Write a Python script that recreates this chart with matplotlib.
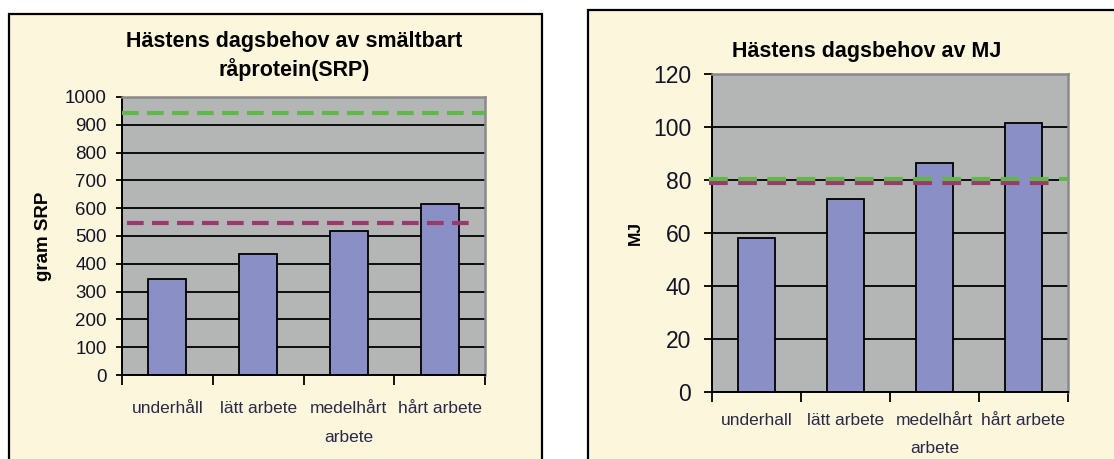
import matplotlib.pyplot as plt
from matplotlib.patches import Rectangle

# data
kategorier = ['underhåll', 'lätt arbete', 'medelhårt\narbete', 'hårt arbete']
kategorier_mj = ['underhall', 'lätt arbete', 'medelhårt\narbete', 'hårt arbete']
srp = [347, 435, 519, 614]
srp_gron = 942
srp_lila = 546
mj = [58, 73, 86.5, 101.5]
mj_gron = 80.2
mj_lila = 78.7

# farger
bg = '#fcf6dc'
plotbg = '#b4b6b6'
stapel = '#8a90c6'
gron = '#62b74a'
lila = '#983a6c'
textfarg = '#141428'

plt.rcParams['font.family'] = ['Liberation Sans', 'DejaVu Sans']

fig = plt.figure(figsize=(11.14, 4.59), dpi=100)
fig.patch.set_facecolor('white')

# ramar runt diagrammen
fig.patches.append(Rectangle((0.0081, -0.05), 0.4785, 1.0195, transform=fig.transFigure,
                             facecolor=bg, edgecolor='black', lw=1.6, zorder=-5))
fig.patches.append(Rectangle((0.5278, -0.05), 0.55, 1.028, transform=fig.transFigure,
                             facecolor=bg, edgecolor='black', lw=1.6, zorder=-5))


def rita(ax, varden, etiketter, ymax, steg, gronv, lilav, xmin_l, xmax_l, xmin_g, dash,
         tickstorlek, ypad, xpad, ytick_len):
    x = range(len(varden))
    ax.set_facecolor(plotbg)
    ax.set_axisbelow(True)
    ax.yaxis.grid(True, color='black', lw=1.3)
    ax.bar(x, varden, width=0.42, color=stapel, edgecolor='black', lw=1.3, zorder=2)
    ax.axhline(lilav, xmin=xmin_l, xmax=xmax_l, color=lila, lw=3, dashes=dash, zorder=3,
               clip_on=False)
    ax.axhline(gronv, xmin=xmin_g, xmax=1, color=gron, lw=3, dashes=dash, zorder=3,
               clip_on=False)
    ax.set_xlim(-0.5, len(varden) - 0.5)
    ax.set_ylim(0, ymax)
    ax.set_yticks(range(0, ymax + 1, steg))
    ax.tick_params(axis='y', length=ytick_len, width=1.3, pad=ypad, labelsize=tickstorlek,
                   labelcolor=textfarg)
    ax.set_xticks([i - 0.5 for i in range(len(varden) + 1)])
    ax.set_xticklabels([])
    ax.tick_params(axis='x', which='major', length=7, width=1.3)
    ax.set_xticks(list(x), minor=True)
    ax.set_xticklabels(etiketter, minor=True, fontsize=12.5, color='#2a2a48',
                       linespacing=2.1)
    ax.tick_params(axis='x', which='minor', length=0, pad=xpad)
    for s in ['left', 'bottom']:
        ax.spines[s].set_color('black')
        ax.spines[s].set_linewidth(1.4)
    for s in ['top', 'right']:
        ax.spines[s].set_color('#8a8a8a')
        ax.spines[s].set_linewidth(1.8)


ax1 = fig.add_axes([0.1095, 0.183, 0.3259, 0.6057])
rita(ax1, srp, kategorier, 1000, 100, srp_gron, srp_lila, 0.014, 0.972, 0.0, (4, 2),
     13.5, 7, 19, 4)
ax1.set_ylabel('gram SRP', fontsize=13.5, fontweight='bold', labelpad=9)
fig.text(0.264, 0.878, 'Hästens dagsbehov av smältbart\nråprotein(SRP)', ha='center',
         va='center', fontsize=15.5, fontweight='bold', linespacing=1.35)

ax2 = fig.add_axes([0.6391, 0.146, 0.3196, 0.6928])
rita(ax2, mj, kategorier_mj, 120, 20, mj_gron, mj_lila, -0.008, 0.972, -0.008, (4.5, 2.5),
     16.5, 9, 15, 6)
ax2.set_ylabel('MJ', fontsize=12.5, fontweight='bold', labelpad=7)
fig.text(0.778, 0.887, 'Hästens dagsbehov av MJ', ha='center', va='center',
         fontsize=15.5, fontweight='bold')

fig.savefig('out.png', dpi=100, facecolor=fig.get_facecolor())
